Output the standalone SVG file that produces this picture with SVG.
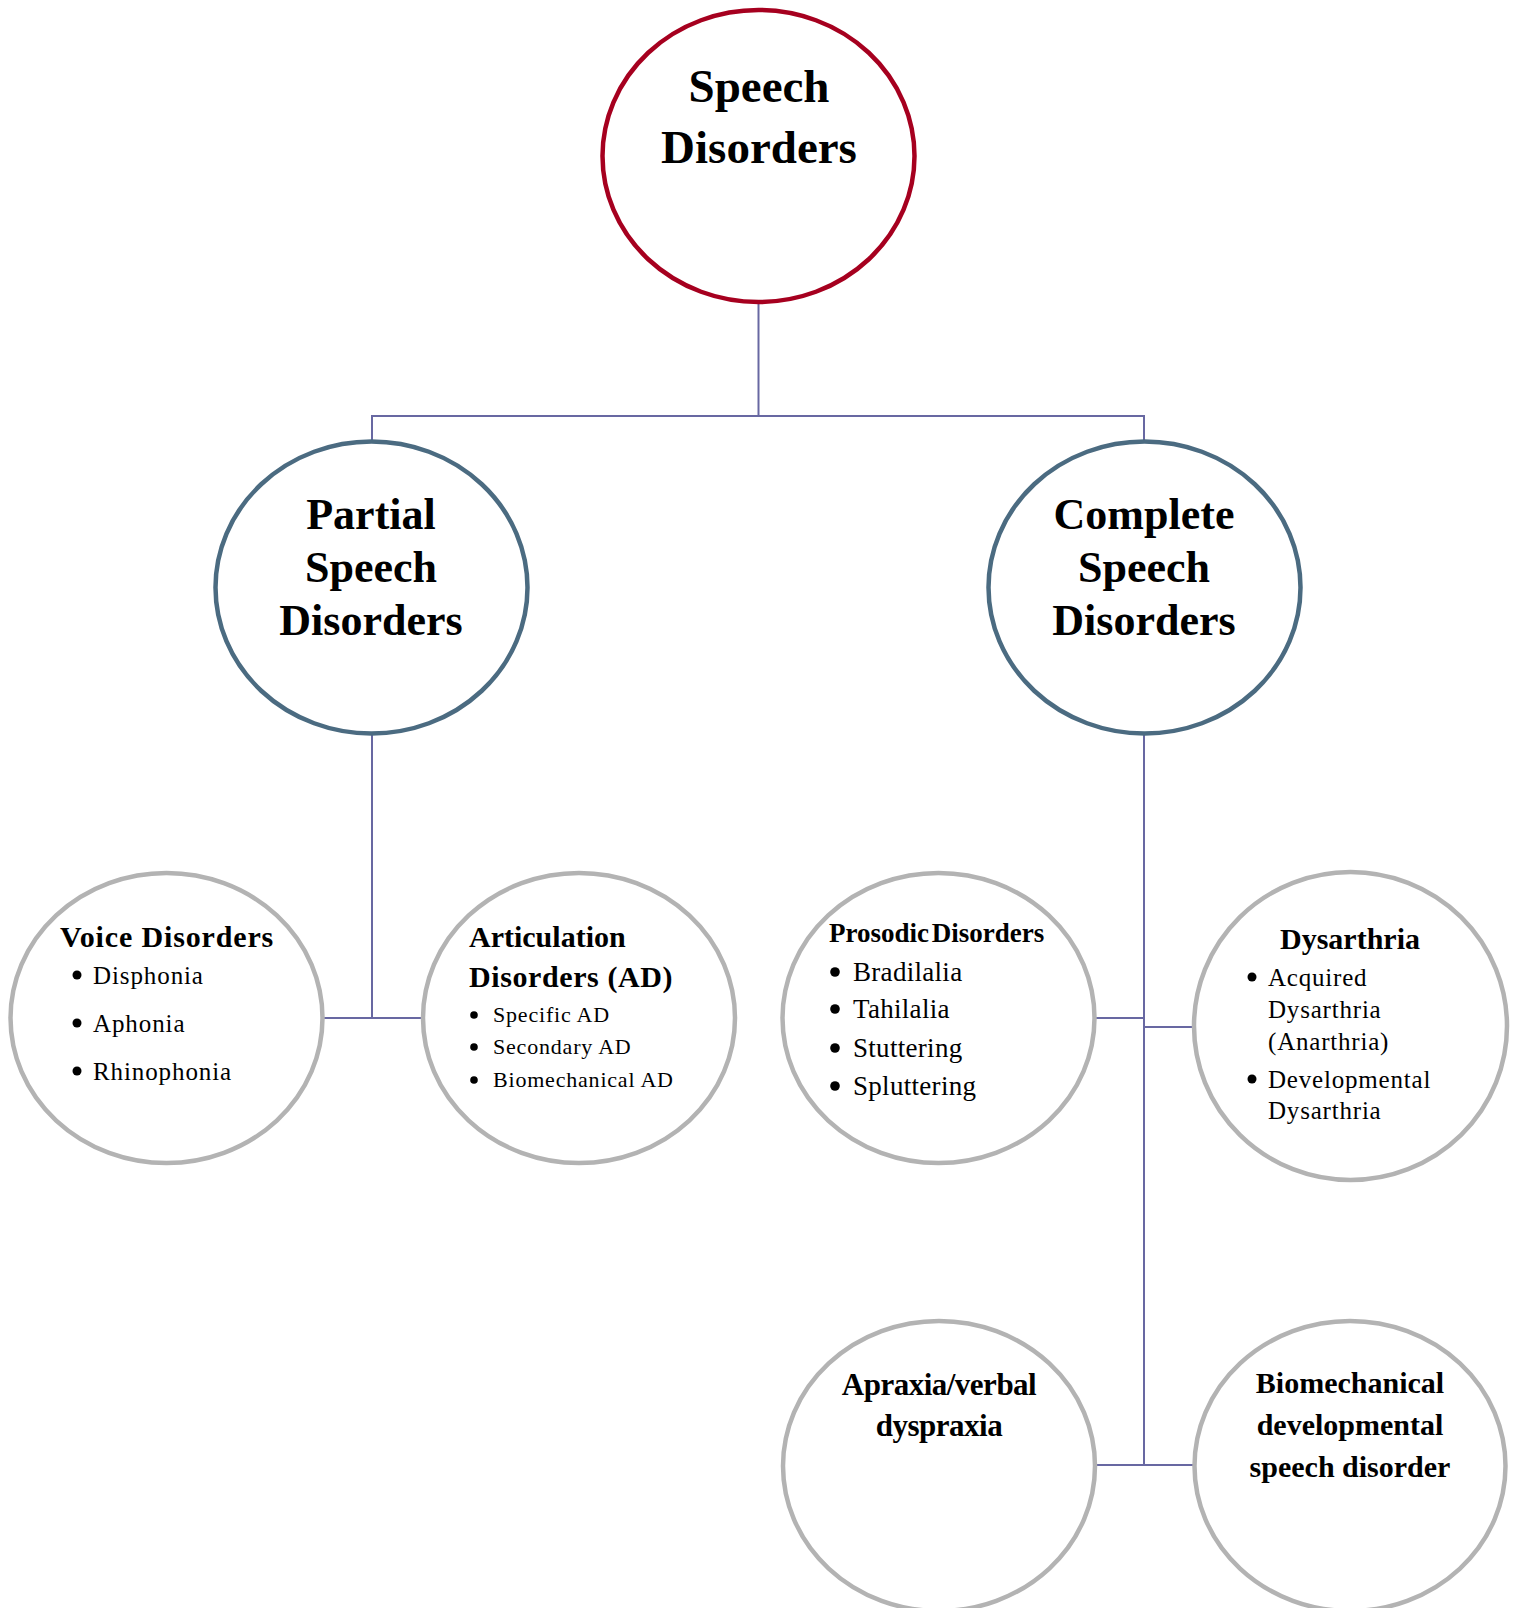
<svg xmlns="http://www.w3.org/2000/svg" width="1513" height="1608" viewBox="0 0 1513 1608">
<style>
  .t { font-family: "Liberation Serif", "Times New Roman", serif; fill: #000; }
  .b { font-weight: bold; }
  .mid { text-anchor: middle; }
  .main { fill: #fff; stroke: #A6001F; stroke-width: 4.5; }
  .sub { fill: #fff; stroke: #4B6B81; stroke-width: 4.5; }
  .leaf { fill: #fff; stroke: #B3B3B3; stroke-width: 4.5; }
  .conn { fill: none; stroke: #6868A2; stroke-width: 2; }
  .dot { fill: #000; }
</style>
<rect width="1513" height="1608" fill="#fff"/>
<g id="connectors">
  <path class="conn" d="M758.5 302 V416"/>
  <path class="conn" d="M372 442 V416 H1144 V442"/>
  <path class="conn" d="M372 733 V1018"/>
  <path class="conn" d="M323 1018 H423"/>
  <path class="conn" d="M1144 733 V1465"/>
  <path class="conn" d="M1094 1018 H1144"/>
  <path class="conn" d="M1144 1027 H1194"/>
  <path class="conn" d="M1094 1465 H1195"/>
</g>
<g id="speech-disorders">
  <ellipse class="main" cx="758.5" cy="156" rx="156" ry="146"/>
  <text class="t b mid" font-size="47" x="759" y="102">Speech</text>
  <text class="t b mid" font-size="47" x="759" y="163">Disorders</text>
</g>
<g id="partial">
  <ellipse class="sub" cx="371.5" cy="587.5" rx="156" ry="146"/>
  <text class="t b mid" font-size="44" x="371" y="529">Partial</text>
  <text class="t b mid" font-size="44" x="371" y="582">Speech</text>
  <text class="t b mid" font-size="44" x="371" y="635">Disorders</text>
</g>
<g id="complete">
  <ellipse class="sub" cx="1144.5" cy="587.5" rx="156" ry="146"/>
  <text class="t b mid" font-size="44" x="1144" y="529">Complete</text>
  <text class="t b mid" font-size="44" x="1144" y="582">Speech</text>
  <text class="t b mid" font-size="44" x="1144" y="635">Disorders</text>
</g>
<g id="voice">
  <ellipse class="leaf" cx="166.5" cy="1018" rx="156" ry="145"/>
  <text class="t b" font-size="30" x="60" y="947" letter-spacing="0.85">Voice Disorders</text>
  <circle class="dot" cx="77" cy="975" r="4.5"/>
  <circle class="dot" cx="77" cy="1023" r="4.5"/>
  <circle class="dot" cx="77" cy="1071" r="4.5"/>
  <text class="t" font-size="25" x="93" y="984" letter-spacing="0.9">Disphonia</text>
  <text class="t" font-size="25" x="93" y="1032" letter-spacing="0.9">Aphonia</text>
  <text class="t" font-size="25" x="93" y="1080" letter-spacing="0.9">Rhinophonia</text>
</g>
<g id="articulation">
  <ellipse class="leaf" cx="579" cy="1018" rx="156" ry="145"/>
  <text class="t b" font-size="30" x="469" y="947">Articulation</text>
  <text class="t b" font-size="30" x="469" y="987" letter-spacing="0.6">Disorders (AD)</text>
  <circle class="dot" cx="474" cy="1015" r="3.8"/>
  <circle class="dot" cx="474" cy="1047" r="3.8"/>
  <circle class="dot" cx="474" cy="1080" r="3.8"/>
  <text class="t" font-size="22" x="493" y="1022" letter-spacing="0.8">Specific AD</text>
  <text class="t" font-size="22" x="493" y="1054" letter-spacing="0.8">Secondary AD</text>
  <text class="t" font-size="22" x="493" y="1087" letter-spacing="0.8">Biomechanical  AD</text>
</g>
<g id="prosodic">
  <ellipse class="leaf" cx="938.5" cy="1018" rx="156" ry="145"/>
  <text class="t b" font-size="27" x="829" y="942" word-spacing="-4">Prosodic Disorders</text>
  <circle class="dot" cx="835" cy="972" r="4.8"/>
  <circle class="dot" cx="835" cy="1009" r="4.8"/>
  <circle class="dot" cx="835" cy="1048" r="4.8"/>
  <circle class="dot" cx="835" cy="1086" r="4.8"/>
  <text class="t" font-size="27" x="853" y="981" letter-spacing="0.3">Bradilalia</text>
  <text class="t" font-size="27" x="853" y="1018" letter-spacing="0.3">Tahilalia</text>
  <text class="t" font-size="27" x="853" y="1057" letter-spacing="0.3">Stuttering</text>
  <text class="t" font-size="27" x="853" y="1095" letter-spacing="0.3">Spluttering</text>
</g>
<g id="dysarthria">
  <ellipse class="leaf" cx="1350.5" cy="1026" rx="156.5" ry="154"/>
  <text class="t b mid" font-size="30" x="1350" y="949">Dysarthria</text>
  <circle class="dot" cx="1252" cy="977" r="4.5"/>
  <circle class="dot" cx="1252" cy="1079" r="4.5"/>
  <text class="t" font-size="25" x="1268" y="986" letter-spacing="0.8">Acquired</text>
  <text class="t" font-size="25" x="1268" y="1018" letter-spacing="0.8">Dysarthria</text>
  <text class="t" font-size="25" x="1268" y="1050" letter-spacing="0.8">(Anarthria)</text>
  <text class="t" font-size="25" x="1268" y="1088" letter-spacing="0.8">Developmental</text>
  <text class="t" font-size="25" x="1268" y="1119" letter-spacing="0.8">Dysarthria</text>
</g>
<g id="apraxia">
  <ellipse class="leaf" cx="939" cy="1466" rx="156" ry="145"/>
  <text class="t b mid" font-size="31" x="939" y="1395" letter-spacing="-0.5">Apraxia/verbal</text>
  <text class="t b mid" font-size="31" x="939" y="1436" letter-spacing="-0.5">dyspraxia</text>
</g>
<g id="biomechanical">
  <ellipse class="leaf" cx="1350" cy="1466" rx="155.5" ry="145"/>
  <text class="t b mid" font-size="30" x="1350" y="1393">Biomechanical</text>
  <text class="t b mid" font-size="30" x="1350" y="1435">developmental</text>
  <text class="t b mid" font-size="30" x="1350" y="1477">speech disorder</text>
</g>
</svg>
